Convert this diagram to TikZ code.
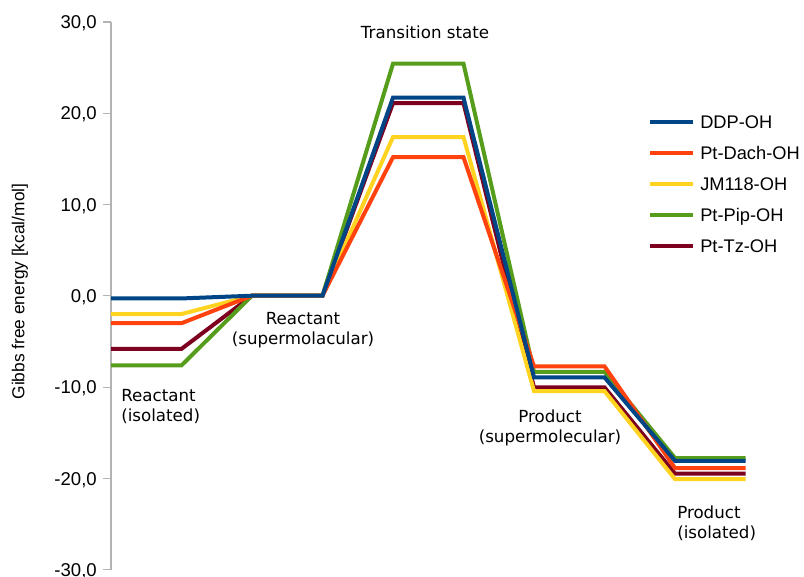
\documentclass[tikz,border=0pt]{standalone}
\usepackage{fontspec}
\setmainfont{Liberation Sans}
\newfontfamily\notefont{DejaVu Sans}

\definecolor{ddp}{HTML}{004586}
\definecolor{dach}{HTML}{FF420E}
\definecolor{jm}{HTML}{FFD320}
\definecolor{pip}{HTML}{579D1C}
\definecolor{tz}{HTML}{7E0021}
\definecolor{axisgray}{HTML}{B3B3B3}

\begin{document}
\begin{tikzpicture}[x=0.75pt, y=-0.75pt,
    serie/.style={line width=3pt},
    ticklab/.style={anchor=base east, inner sep=0pt, font=\fontsize{13.9}{16}\selectfont},
    legtext/.style={anchor=base west, inner sep=0pt, font=\fontsize{13.7}{16}\selectfont},
    note/.style={inner sep=0pt, font=\notefont\fontsize{12.5}{15}\selectfont}]
    \useasboundingbox (0,0) rectangle (804,577);

    % Axis
    \draw[axisgray, line width=0.9pt] (111,22) -- (111,570);
    \foreach \v/\lab [count=\k from 0] in {30/{30,0}, 20/{20,0}, 10/{10,0}, 0/{0,0}, -10/{-10,0}, -20/{-20,0}, -30/{-30,0}} {
        \draw[axisgray, line width=0.9pt] (103,22+91.3*\k) -- (111,22+91.3*\k);
        \node[ticklab] (t\k) at (97,28.6+91.3*\k) {\lab};
    }
    \node[rotate=90, inner sep=0pt, font=\fontsize{13}{15}\selectfont] (ytitle) at (20,291.5) {Gibbs free energy [kcal/mol]};

    % Series (data in kcal/mol)
    \begin{scope}[shift={(0,295.7)}, yscale=-9.17]
        \draw[serie, tz] (111,-5.8) -- (181.5,-5.8) -- (252,0) -- (322.5,0) -- (393,21.0) -- (463.5,21.0) -- (534,-10.0) -- (604.5,-10.0) -- (675,-19.4) -- (745.5,-19.4);
        \draw[serie, pip] (111,-7.6) -- (181.5,-7.6) -- (252,0) -- (322.5,0) -- (393,25.3) -- (463.5,25.3) -- (534,-8.3) -- (604.5,-8.3) -- (675,-17.7) -- (745.5,-17.7);
        \draw[serie, jm] (111,-2.0) -- (181.5,-2.0) -- (252,0) -- (322.5,0) -- (393,17.3) -- (463.5,17.3) -- (534,-10.4) -- (604.5,-10.4) -- (675,-20.0) -- (745.5,-20.0);
        \draw[serie, dach] (111,-3.0) -- (181.5,-3.0) -- (252,0) -- (322.5,0) -- (393,15.1) -- (463.5,15.1) -- (534,-7.7) -- (604.5,-7.7) -- (675,-18.8) -- (745.5,-18.8);
        \draw[serie, ddp] (111,-0.3) -- (181.5,-0.3) -- (252,0) -- (322.5,0) -- (393,21.6) -- (463.5,21.6) -- (534,-8.9) -- (604.5,-8.9) -- (675,-18.0) -- (745.5,-18.0);
    \end{scope}

    % Notes
    \node[note, anchor=base] (ts) at (425,39) {Transition state};
    \node[note, anchor=north west, align=left] (risol) at (121,388.6) {Reactant\\(isolated)};
    \node[note, anchor=north, align=center] (rsup) at (303,311.6) {Reactant\\(supermolacular)};
    \node[note, anchor=north, align=center] (psup) at (550,409.3) {Product\\(supermolecular)};
    \node[note, anchor=north west, align=left] (pisol) at (677,505.3) {Product\\(isolated)};

    % Legend
    \foreach \col/\name [count=\i from 0] in {ddp/DDP-OH, dach/Pt-Dach-OH, jm/JM118-OH, pip/Pt-Pip-OH, tz/Pt-Tz-OH} {
        \draw[serie, \col] (650,122+31*\i) -- (693,122+31*\i);
        \node[legtext] (leg\i) at (700,128.5+31*\i) {\name};
    }
\end{tikzpicture}
\end{document}
